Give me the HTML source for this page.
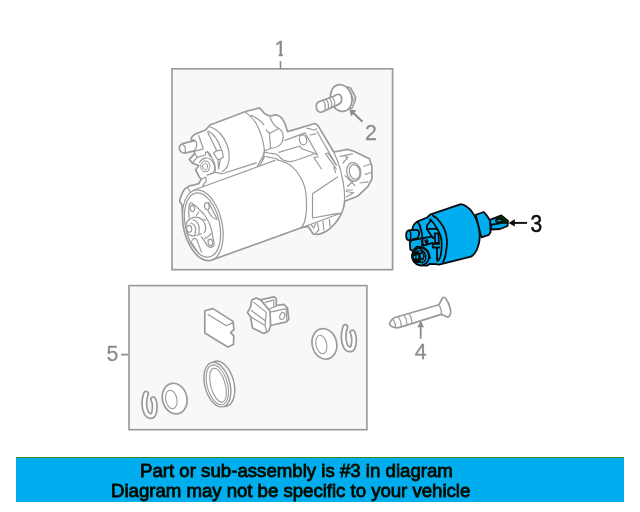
<!DOCTYPE html>
<html lang="en">
<head>
<meta charset="utf-8">
<title>Starter parts diagram</title>
<style>
html,body{margin:0;padding:0;background:#fff;}
body{width:640px;height:512px;overflow:hidden;position:relative;font-family:"Liberation Sans",sans-serif;}
#diagram{will-change:transform;position:absolute;left:0;top:0;width:640px;height:512px;display:block;}
#banner{will-change:transform;position:absolute;left:16px;top:457px;width:608px;height:45px;background:#00adef;border-top:1px solid #3a8a1e;box-sizing:border-box;}
#banner p{position:absolute;margin:0;white-space:nowrap;font-size:18.65px;line-height:20px;color:#000;-webkit-text-stroke:0.85px #061200;}
#l1{left:124px;top:3px;}
#l2{left:95px;top:23px;letter-spacing:-0.03px;}
.num{font-family:"Liberation Sans",sans-serif;font-size:21.3px;fill:#8c8c8c;stroke:#8c8c8c;stroke-width:0.3px;}
.g{fill:none;stroke:#9a9a9a;stroke-width:1.2;stroke-linecap:round;stroke-linejoin:round;}
.gw{fill:#fff;stroke:#9a9a9a;stroke-width:1.7;stroke-linecap:round;stroke-linejoin:round;}
.box{fill:#f8f8f8;stroke:#9a9a9a;stroke-width:1.65;}
.k{fill:none;stroke:#0a0a0a;stroke-width:1.8;stroke-linecap:round;stroke-linejoin:round;}
.kb{fill:#00adef;stroke:#0a0a0a;stroke-width:1.8;stroke-linecap:round;stroke-linejoin:round;}
</style>
</head>
<body>
<svg id="diagram" width="640" height="512" viewBox="0 0 640 512">
<!-- boxes -->
<rect class="box" x="172" y="68.85" width="220.6" height="200.85"/>
<rect class="box" x="129" y="285.6" width="237.9" height="144.1"/>
<!--STARTER-->
<g id="starter">
<!-- silhouette -->
<path class="gw" d="M182.3 143.7 L194.8 140.6 L191.2 139.8 L191.6 137.5 C192.8 135.6 194.2 134.6 195.5 134 L205.6 130 L210 125 L246.3 111.3 L259.4 107.9 L261.9 110.4 L264.4 113.5 L269.4 116 L276.3 114.8 C279 115.6 281 117 282.5 119.1 C284 121.5 285 123.5 285.6 125.4 L287.5 131.6 L315 123.5 L318 125.6 L333.8 152 L347.5 149.4 L353.8 151.3 L369.4 158.8 L371.9 166.3 L371.9 178.8 L368 186.3 L357.5 196.3 L344.6 201.3 C344.3 206 343 210.5 341.3 213.8 C338 221 331 228.5 326.3 231.3 C322 233.5 319 234.4 317.5 234.4 L313 233.8 L308 226.3 L300.6 228 L211.1 260.3 A19.3 36 -12.3 0 1 182.5 214.2 L181.9 204.6 L179.6 201.5 L180.4 198 L182.5 192.5 L184.7 189 L189.4 185.9 L194.8 184.8 L198.8 183.6 L201.1 179.3 L199.5 177.3 L195.6 170 L198.8 165.6 L192.5 163.3 L189.4 159.4 L194.5 153.9 L194.4 150.8 L184.6 153.1 C182.8 153 181.5 152.3 180.7 151.5 C179.7 150.3 179.3 149.3 179.3 148.4 C179.3 147.2 179.7 146 180.3 145.3 C180.9 144.5 181.6 144 182.3 143.7 Z"/>
<g class="g">
<!-- stud -->
<path d="M182.6 144.5 C184.5 145.5 185.5 147.2 185.4 148.8 C185.5 150.3 185.3 151.5 185 152.7 M194.8 140.6 C196 141.3 196.7 142.3 196.7 143.7 C196.8 145.3 196.5 147 195.9 148.4 L194.4 150.4"/>
<path d="M198.7 135.5 L203.3 148.8 L195.1 151.1 M195.1 153.9 L197.1 157.4 L192.9 162.5 M197.1 157.4 L205.4 155 L205.8 152 L207.7 152.3 L210.2 156.8"/>
<!-- solenoid cap arcs -->
<path d="M210 127 C218 129 225 138 227.5 146 C229.5 153 229.8 160 227.7 165.6 C226.5 168.5 224.5 170.5 222.2 171.5"/>
<path d="M207.6 132 L216.6 150.4 M208.5 131.3 C213.5 134 218.5 141 221.3 149.2 M207.3 151.5 C209.5 153 211 155.5 211.9 157.8 C213.5 160.5 214.6 163.5 215 165.6 C215.4 168 215.3 170 215 172"/>
<path d="M213.5 153.1 L216.6 150.8 L222.1 150 L223.3 157 L220.5 159.3 L217.4 159.3 Z M218 159.5 L218.5 168.9 L220.4 159.5"/>
<!-- nut -->
<path d="M199.5 162.5 C201 160 203.5 158.2 205.8 157.8 C208 157.6 210 158.8 211.3 160.2 C213 162 214.2 164 214.4 165.6 C214.8 167.5 214.7 169 214.4 170.3 C214 171.8 213.2 172.8 212 173.4 C210.5 174.3 209 174.8 207.3 175"/>
<path d="M201 164.5 L203.8 160.8 L208 161.5 L210.2 165.5 L208.3 171 L204 172 L201.3 169 Z M203 165 L205.2 163 L207.6 164.5 L207.6 168.2 L205.4 170 L203.2 168.5 Z" style="stroke-width:1"/>
<!-- flange -->
<path d="M207.3 175 L215.9 172.3 L222.2 173.8 L256.3 162.9 M264.4 151 L263 156 L257.5 166 M265 156 L259.4 166 M205.8 177 L206.2 180.9 L202.7 185.9 M201.1 179.3 L205.8 177 M194 190 L275 160.4 M187.5 187.5 L190 191.3"/>
<path d="M265 152.3 C269 153.5 273 153.5 276.3 154 C279 156 281 158.5 282.5 159.8 C285 161 288 161.6 290 161.6 C294 161 297 160 300 159 L313.8 154 M266.3 156.6 L275.6 158.5 L277.5 159.8"/>
<!-- solenoid right end -->
<path d="M245.6 112.3 C251 116 255 121 257.5 126 C261 133 263.5 142 264.4 149.8 C264.6 152 264.4 153.5 263.8 154.8 L262.5 160.3 M251.3 115.4 C254 116.5 257 118.5 258.8 119.8 C261 121.5 262.5 123 263.8 124.8"/>
<path d="M270 116.6 C271 120 272.5 123 274.4 125.4 L278.8 128.5 L269.4 133.5 L266.3 129.8 M269.4 133.5 L270.6 148.5 M278.8 128.5 C281 130 283 132.5 283 134.8 C283.5 138 283 141 281.3 143.5 C279 146.5 275 148 270.6 148.5 L264.4 151"/>
<!-- nose housing -->
<path d="M306.9 128.2 L313.8 130 L316.9 128.8 M316.9 131.3 L336.3 165 M310 135 L315.6 133.8"/>
<path d="M285 140.4 L305 132.9 L317.5 155 M278.8 152.3 L300 146 L302 148.8 L313.8 153 L317.5 155 M313.8 157.5 L318 156.9 M313.8 157.5 L321.5 169 M325.6 153.8 L328 153 M325.6 153.8 L336.3 168.8 M328 153 L336.3 165 M333.8 167.5 L335.6 172.5"/>
<ellipse cx="303" cy="139.9" rx="3.6" ry="5" transform="rotate(-15 303 139.9)"/>
<path d="M333.8 152 C340 165 343 177.5 344.4 191.3 L344.6 201.3"/>
<path d="M312.5 218 L312.5 193.8 L337.5 176.9 M312.5 218 L335 213.8 L341.3 213 M300.6 228 L341.3 213"/>
<path d="M317.5 223 L318.8 230 L316.3 232.5 M323 221.3 L323.8 230 M329.4 219.4 L330 226.3 M311.3 225 L313.8 228 L315.6 223.8"/>
<!-- ear details -->
<ellipse cx="353.8" cy="171.9" rx="7" ry="9.4" transform="rotate(-12 353.8 171.9)"/>
<ellipse cx="354.6" cy="171.9" rx="5.2" ry="7.4" transform="rotate(-12 354.6 171.9)"/>
<path d="M340 156.3 L352.5 153.8 M343 163 L348 156.9 M345 155.6 L347.5 158.8 M363.8 166.3 L371.3 163.8 M365 174.4 L371.3 172.5 M360 183 L368 181.9 M345 175.6 L355 185.6 M347.5 186.3 L353 181.5 M346.3 190 L352.5 190 M346.3 191.5 L352 192.5 M346.3 196.9 L353.8 192.5"/>
<!-- motor cylinder right end -->
<path d="M277.5 159.8 C281 160.5 284.5 162 287.5 163.5 C291 165.5 294 168 296.3 171 C299 174.5 301 178 302.5 181 C304 184.5 305 188 305.6 191 C306 194 306.3 197 306.3 200 C307 208 306.5 214 305 220 C304 224 302.5 226.5 300.6 228"/>
<!-- end cap -->
<path d="M182.5 214.2 A19.3 36 -12.3 1 1 211.1 260.3"/>
<ellipse cx="202.5" cy="225" rx="17.1" ry="32.7" transform="rotate(-12.3 202.5 225)"/>
<path d="M189.7 203.8 C190.3 203 191 202.8 191.7 203 L196 206.2 L203.8 214 C206 217 207.8 220 209.3 223.3 C210.3 226 211 228 211.6 230.5 L214.3 244.3 C213.5 246.5 211.8 247.6 210 247.4 C208.8 247 207.8 246.2 206.9 245.1 L201.4 236.5 M189.7 203.8 C189.2 204.5 189 205.3 188.9 206.2 C188.5 210.5 188.7 215 189.3 218.7"/>
<ellipse cx="192.4" cy="208.5" rx="2.2" ry="3.1" transform="rotate(-10 192.4 208.5)"/>
<ellipse cx="210.4" cy="242.4" rx="2.3" ry="3.3" transform="rotate(-12 210.4 242.4)"/>
<ellipse cx="206.9" cy="206.2" rx="2.3" ry="3.5" transform="rotate(-15 206.9 206.2)"/>
<path d="M208 210.8 C209.3 213.5 210.8 215.6 212.4 217.1 C214 218.4 215.5 219.1 217 219.4 M208.7 202.5 L216.6 218 M198.7 212 L196.4 215.5 M203.8 219.4 L205.4 220.2"/>
<ellipse cx="189.2" cy="228.8" rx="2.5" ry="3.5" transform="rotate(-8 189.2 228.8)"/>
<path d="M190.9 223 C193.5 223.8 195.3 226 195.6 228.8 C195.8 230.8 195.5 232.6 194.8 234.3 M193.2 219.8 C196.5 221 198.7 224 199.1 227.3 C199.4 229.5 199.2 231.5 198.7 233.5 M185.8 226.5 C186 223.5 187.5 220.5 189.7 219.4 C191.5 218 193.8 217 196 217.1 C199.5 217.5 202.3 219.3 203.8 221.8 C205.2 224 205.8 226.5 205.7 228.8 C205.5 230.3 205 231.6 204.2 232.7 M186.2 231.5 C186.8 233 187.4 233.8 188.2 234.2 C190 235.5 192.3 236 194.4 235.7 C197 235.4 199.5 234.7 201.4 233.8"/>
<path d="M204.6 238.5 C206.3 238 208 237 209.3 235.7 C210 235 210.6 234.2 211 233.4 M192 240.4 L194.4 238 L196.8 239.6 L201.4 252.1 M190.8 241.5 L198.8 253.6"/>
</g>
</g>
<!--/STARTER-->
<!--REST-->
<!-- bolt 2 -->
<g id="bolt2" class="g">
<path class="gw" d="M346.3 86.8 L350.6 88 L355.6 97.4 L355 101 L351.9 108 L346 110 Z"/>
<path d="M348.8 90.5 L353 98 L353 101.5"/>
<ellipse class="gw" cx="341.2" cy="98" rx="10.6" ry="13.6" transform="rotate(-14 341.2 98)"/>
<path class="gw" d="M334.4 96 L318.8 101.8 C315 103.5 315.5 111 320 112.2 C321 112.4 322 112 322.5 111.8 L335 106 C338 105 341 104 341.6 100.5 C342 97.5 340.5 95 338.8 94.3 C337 94 335.5 95 334.4 96 Z"/>
<path d="M323 100.5 C325 103 325.8 107 324.8 110.5 M326.2 99.3 C328.2 101.8 329 105.8 328 109.3 M329.4 98.1 C331.4 100.6 332.2 104.6 331.2 108.1 M332.3 97 C334.3 99.5 335.1 103.5 334.1 107"/>
</g>
<path d="M351 110.8 L362.5 121.8" fill="none" stroke="#8a8a8a" stroke-width="1.9"/>
<path d="M349.4 109.3 L356.4 110.5 L351 116.2 Z" fill="#8a8a8a"/>
<!-- leader 1, tick 5 -->
<path d="M280.5 61 V69 M121.2 354.6 H128.5" fill="none" stroke="#8c8c8c" stroke-width="1.6"/>
<!-- bolt 4 -->
<g id="bolt4" class="g">
<path class="gw" d="M389.4 323.8 C390.5 321 392.5 318.5 395 317.5 L438.8 304.8 L442.5 298 C443.5 297 445 297.5 445.6 298.5 C447.5 301 449.3 304.5 450 307.5 C450.7 310 450.9 311.5 450.6 313 C450 315.5 449 317 448 317.3 L441.3 314.4 L401.3 326.9 C399.5 327.5 398 327.8 396.3 327.8 C394.5 327.6 392.8 327 391.3 326.3 C390.3 325.6 389.7 324.8 389.4 323.8 Z"/>
<path d="M438.8 304.8 C440.5 307 441.6 310.5 441.3 314.4 M393 319.4 C394.6 321.5 395.6 324 395.6 326.9 M398.8 317.5 C400.4 320 401.3 323 401.3 326.5 M404.4 315.6 C406 318 406.9 321 406.9 324.4 M409.4 314.4 C411 316.5 411.9 319.5 411.9 322.5"/>
</g>
<path d="M420.7 322 V338.7" fill="none" stroke="#8a8a8a" stroke-width="1.8"/>
<path d="M420.7 321 L424 327.2 L417.4 327.2 Z" fill="#8a8a8a"/>
<!-- box 5 contents -->
<g id="kit" class="g">
<path class="gw" d="M204.8 310.8 L213 308.6 L233 321.4 L234 329.5 L230.6 332.6 L233.8 335.8 L233.5 344.5 L227.8 347 L204.8 333 Z"/>
<path d="M208 314.5 L226.3 325.8 L233 322.6"/>
<path class="gw" d="M260.6 299.9 L273.8 296.8 L276.3 298.6 L276.3 305.5 L283.8 304.3 L287.5 308 L288.8 319.3 L286.3 321.8 L270.6 325.5 Z"/>
<path d="M265 302.4 L273.8 299.9 L273.8 306 M271.3 311.8 L286.3 308.6 L286.9 321.1 M270 308.6 L276.3 306.3"/>
<ellipse cx="282.3" cy="316" rx="2.4" ry="3.6" transform="rotate(20 282.3 316)"/>
<path class="gw" d="M247.5 312.4 L250.6 306.8 L251.9 299.9 L256.3 298 L260.6 299.9 L270 311.1 L270.6 325.5 L268.8 331.1 L263.8 333.6 L252.5 328 L250.6 316.8 Z"/>
<path d="M253.8 302.4 L266.3 312.4 L265 325.5 L266.9 331.8 M251.3 310.5 L265.6 321.1 M250.6 316.8 L265 325.5"/>
<!-- washers -->
<ellipse class="gw" cx="324.4" cy="343.9" rx="12.2" ry="15.5" transform="rotate(-14 324.4 343.9)"/>
<ellipse cx="321.3" cy="344.5" rx="5.4" ry="9.4" transform="rotate(-12 321.3 344.5)" style="stroke-width:1.1"/>
<ellipse class="gw" cx="174.7" cy="398.6" rx="12.2" ry="15.5" transform="rotate(-14 174.7 398.6)"/>
<ellipse cx="171.3" cy="399.5" rx="5.6" ry="9.4" transform="rotate(-12 171.3 399.5)" style="stroke-width:1.1"/>
<!-- ring -->
<ellipse class="gw" cx="220.6" cy="383.8" rx="13.3" ry="23.2" transform="rotate(-15 220.6 383.8)" style="stroke-width:1.45"/>
<ellipse class="gw" cx="217.4" cy="384.6" rx="12.5" ry="22.8" transform="rotate(-15 217.4 384.6)" style="stroke-width:1.45"/>
<ellipse cx="217.3" cy="384.8" rx="10.2" ry="20.4" transform="rotate(-15 217.3 384.8)" style="stroke-width:1.1"/>
<ellipse cx="218" cy="385.2" rx="7.3" ry="17.4" transform="rotate(-15 218 385.2)" style="stroke-width:1.1"/>
</g>
<!-- c-clips -->
<g fill="none" stroke-linecap="round" stroke-linejoin="round">
<path id="clip" d="M345.3 327 C343 333 343 341 345.5 346 C347.5 350 351.5 350.5 353 347 C354.5 343 354.5 336 352.5 332.5" stroke="#9a9a9a" stroke-width="6.3"/>
<path d="M345.3 327 C343 333 343 341 345.5 346 C347.5 350 351.5 350.5 353 347 C354.5 343 354.5 336 352.5 332.5" stroke="#fff" stroke-width="2.9"/>
<g transform="translate(-199.3 66.7)">
<path d="M345.3 327 C343 333 343 341 345.5 346 C347.5 350 351.5 350.5 353 347 C354.5 343 354.5 336 352.5 332.5" stroke="#9a9a9a" stroke-width="6.3"/>
<path d="M345.3 327 C343 333 343 341 345.5 346 C347.5 350 351.5 350.5 353 347 C354.5 343 354.5 336 352.5 332.5" stroke="#fff" stroke-width="2.9"/>
</g>
</g>
<!-- part 3 (highlighted) -->
<g id="part3" class="k">
<path class="kb" d="M490 219.8 L501.3 215.4 L508 221 L507.5 226 L500 229 L491.3 229.5 Z"/>
<path d="M491.3 224.8 L503.8 222.5 L507.5 222.8"/>
<path d="M496 217.9 L501.3 216.2 L507.5 221.2 L506 222.6 L499.5 223.6 L495.5 221.5 Z" style="fill:#062c06;stroke:none"/>
<ellipse class="kb" cx="499.2" cy="220.7" rx="3.5" ry="1.4" transform="rotate(-6 499.2 220.7)" style="stroke-width:1.5"/>
<path class="kb" d="M475.6 214.8 L483.8 212 L486.3 214.8 L490 220.4 L490.6 232.3 L488.8 234.8 L481.3 237.3 Z"/>
<path class="kb" d="M412.5 230.3 C412.3 228 413 226 414 224.5 C415 223 416 222.3 417 221.7 L427.2 217.5 L430 214.7 L460.9 204.2 C463 204.5 465.2 205.5 466.8 206.8 C469.5 208.5 471.4 210.5 472.8 213 C475.3 216.5 476.8 220 477.6 223.3 C479 227.5 479.7 231.5 479.7 235.8 C479.8 238.5 479.5 241 478.9 243.5 C478 247.5 476.6 251 474.4 253.7 C473 255.5 471.6 256.5 470 256.8 L439 264.6 L436 264.2 L429.7 263.9 L427.2 265.6 L420.6 265.4 L414 261.9 L412.2 257.2 L412.2 255 L413.1 251.3 L410.3 249.4 L409.8 241.9 L412.5 240 Z"/>
<path d="M432.8 215.6 C436 217 438 219.5 439.4 221.3 C442 224.5 443.8 227.5 445 230.6 C446.3 234 446.9 237.5 446.9 241 C447 244 446.8 247 446.4 249.4 C446 252.5 445.5 255 445 257.2 C444.5 259 443.8 260.5 443.1 261.9"/>
<path d="M430 219.4 C433 221.5 435 224.5 436.6 227.8 C438.3 230.5 439.5 233 440.3 235.3 C441.2 238 441.7 240.5 441.7 242.8 C441.8 246 441.6 249 441.3 251.3 C441 254 440.5 256 440.3 257 C439.5 259 438.5 260.3 437.5 261"/>
<path d="M417.8 222.2 C419.5 224 420.3 226.5 420.6 228.8 C421.8 232 422.3 235 422.5 238.1 C422.6 241 422.4 243.5 422 245.6"/>
<path d="M431 220.3 L427.2 225 L426.7 228.8 L431 235.3 L433.3 238.1 M428 228.8 H436.6 M434.7 233.4 H438.4 L438.9 242.8 H435.2 Z M432.8 243.8 H439.4 M432.8 247.5 H439.4 M432.8 243.8 V247.5 M437 247.5 V260"/>
<path d="M412.2 240 L431.9 236.7 M421.6 241 L423.4 245.6 L432.8 242.8 M425.3 240.5 L425.8 242.8 L427.7 242.3 L427.2 240"/>
<path class="kb" d="M409.8 230.2 L417.5 229.9 C419 231 419.4 233.5 418.7 235.5 C418.3 237 417.9 237.8 417.4 238.1 L409 240.4 C407.2 240.2 406.1 238.5 406.1 235.3 C406.1 232.5 407.6 230.5 409.8 230.2 Z"/>
<path d="M409.6 230.5 C411 233 411.2 237 410 240" style="stroke-width:1.4"/>
<ellipse class="kb" cx="420.6" cy="256.6" rx="8.3" ry="8.8" transform="rotate(-15 420.6 256.6)"/>
<path d="M420.3 249.4 C423 250.8 424.8 252.6 425.3 254.4 C426 256.4 425.9 258.4 425.3 260 C424.6 261.6 423.5 262.6 422.1 263.1" style="stroke-width:1.5"/>
<path d="M412.4 255.6 L416.5 251.3 L421.5 251.3 L424 256.3 L421.5 261.9 L415.9 262.5 L412.8 260 Z" style="fill:#031003;stroke-width:1.6"/>
<g style="fill:#00adef;stroke:none"><ellipse cx="414.6" cy="257" rx="0.9" ry="1.5"/><ellipse cx="417.4" cy="256.8" rx="1" ry="1.9"/><ellipse cx="421.9" cy="255.8" rx="1.1" ry="2.4" transform="rotate(-10 421.9 255.8)"/><ellipse cx="419.8" cy="251.9" rx="1.4" ry="0.7"/><ellipse cx="421.6" cy="260.6" rx="1.1" ry="0.8"/></g>
<path d="M414 249.4 L416.9 246.6 L423.4 247.5 L428.1 251.3 L430 258"/>
</g>
<path d="M514 222.9 H527" fill="none" stroke="#0a0a0a" stroke-width="1.9"/>
<path d="M508.6 222.9 L514.8 219.3 L514.8 226.5 Z" fill="#0a0a0a"/>
<!--/REST-->
<!-- labels -->
<clipPath id="c1"><path d="M268 30 H292 V53.4 H282.8 V58 H278.8 V53.4 H268 Z"/></clipPath>
<g clip-path="url(#c1)"><text class="num" x="274.5" y="55.7">1</text></g>
<text class="num" x="365.1" y="139.6">2</text>
<text class="num" transform="translate(530.5 231.6) scale(0.9 1)" style="fill:#0a0a0a;stroke:#0a0a0a;stroke-width:0.5px;font-size:23.3px">3</text>
<text class="num" x="414.8" y="358.6">4</text>
<text class="num" x="106.6" y="361.3">5</text>
</svg>
<div id="banner">
<p id="l1">Part or sub-assembly is #3 in diagram</p>
<p id="l2">Diagram may not be specific to your vehicle</p>
</div>
</body>
</html>
